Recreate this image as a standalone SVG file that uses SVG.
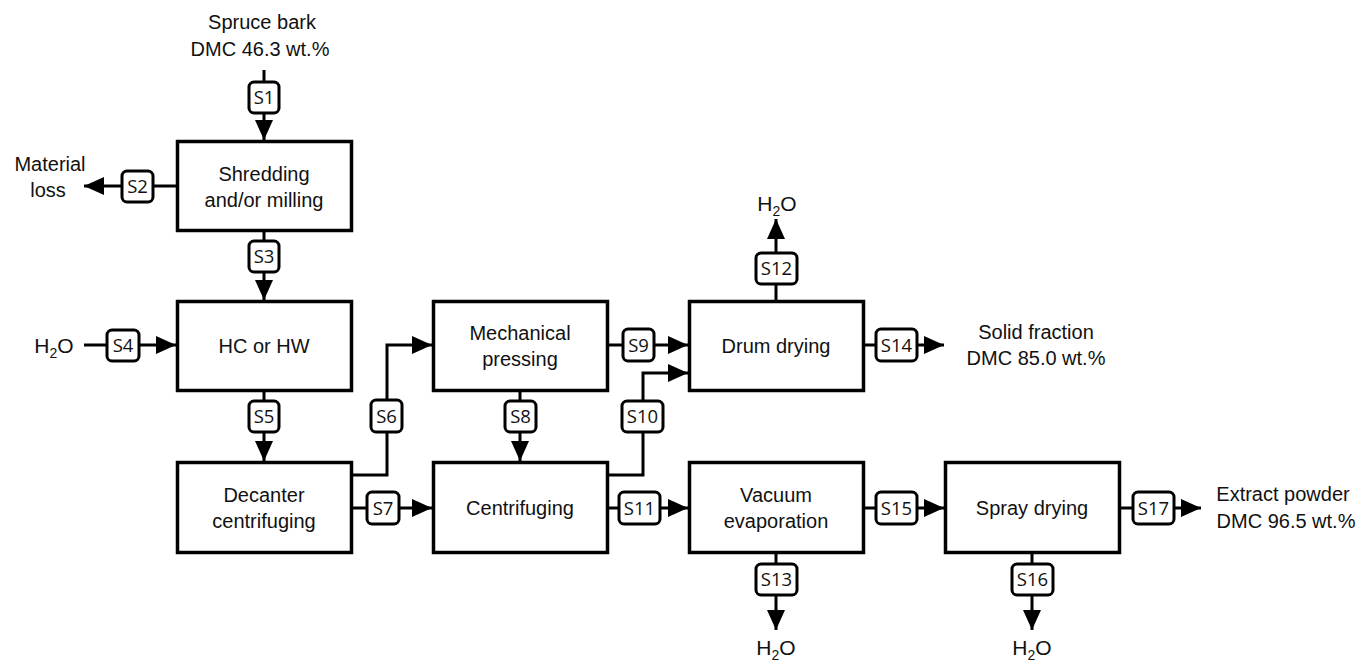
<svg xmlns="http://www.w3.org/2000/svg" width="1363" height="664" viewBox="0 0 1363 664">
<defs>
<marker id="ah" markerUnits="userSpaceOnUse" markerWidth="20" markerHeight="18" viewBox="0 0 20 18" refX="20" refY="9" orient="auto">
<path d="M0,0 L20,9 L0,18 Z" fill="#000"/>
</marker>
<style>
.box{fill:#fff;stroke:#000;stroke-width:3.5}
.tag{fill:#fff;stroke:#000;stroke-width:3}
.ln{fill:none;stroke:#000;stroke-width:3}
.t{font-family:"Liberation Sans",Arial,sans-serif;font-size:20px;fill:#111;text-anchor:middle}
.h{font-size:21px}
.s{font-family:"Open Sans","Noto Sans",sans-serif;font-size:18.5px;fill:#111;text-anchor:middle}
.sub{font-size:14px}
</style>
</defs>
<rect width="1363" height="664" fill="#fff"/>

<g id="connectors">
<line class="ln" x1="264" y1="70" x2="264" y2="140" marker-end="url(#ah)"/>
<line class="ln" x1="176" y1="186" x2="84" y2="186" marker-end="url(#ah)"/>
<line class="ln" x1="264" y1="232" x2="264" y2="300" marker-end="url(#ah)"/>
<line class="ln" x1="84" y1="345" x2="176" y2="345" marker-end="url(#ah)"/>
<line class="ln" x1="264" y1="392" x2="264" y2="461" marker-end="url(#ah)"/>
<polyline class="ln" points="353,475 387,475 387,345 432,345" marker-end="url(#ah)"/>
<line class="ln" x1="353" y1="508" x2="432" y2="508" marker-end="url(#ah)"/>
<line class="ln" x1="520" y1="392" x2="520" y2="461" marker-end="url(#ah)"/>
<line class="ln" x1="609" y1="345" x2="688" y2="345" marker-end="url(#ah)"/>
<polyline class="ln" points="609,475 643,475 643,373 688,373" marker-end="url(#ah)"/>
<line class="ln" x1="609" y1="508" x2="688" y2="508" marker-end="url(#ah)"/>
<line class="ln" x1="776" y1="300" x2="776" y2="219" marker-end="url(#ah)"/>
<line class="ln" x1="865" y1="345" x2="944" y2="345" marker-end="url(#ah)"/>
<line class="ln" x1="776" y1="554" x2="776" y2="630" marker-end="url(#ah)"/>
<line class="ln" x1="865" y1="508" x2="944" y2="508" marker-end="url(#ah)"/>
<line class="ln" x1="1032" y1="554" x2="1032" y2="630" marker-end="url(#ah)"/>
<line class="ln" x1="1121" y1="508" x2="1201" y2="508" marker-end="url(#ah)"/>

<g id="tags">
<rect class="tag" x="249" y="82" width="30" height="31" rx="5"/><text class="s" x="264" y="104">S1</text>
<rect class="tag" x="122" y="171" width="31" height="31" rx="5"/><text class="s" x="137.5" y="193">S2</text>
<rect class="tag" x="249" y="241" width="30" height="31" rx="5"/><text class="s" x="264" y="263">S3</text>
<rect class="tag" x="107" y="330" width="32" height="31" rx="5"/><text class="s" x="123" y="352">S4</text>
<rect class="tag" x="249" y="401" width="30" height="31" rx="5"/><text class="s" x="264" y="423">S5</text>
<rect class="tag" x="371" y="400" width="31" height="32" rx="5"/><text class="s" x="386.5" y="423">S6</text>
<rect class="tag" x="367" y="492" width="32" height="32" rx="5"/><text class="s" x="383" y="515">S7</text>
<rect class="tag" x="505" y="401" width="31" height="31" rx="5"/><text class="s" x="520.5" y="423">S8</text>
<rect class="tag" x="623" y="329" width="31" height="32" rx="5"/><text class="s" x="638.5" y="352">S9</text>
<rect class="tag" x="622" y="401" width="41" height="31" rx="5"/><text class="s" x="642.5" y="423">S10</text>
<rect class="tag" x="619" y="492" width="41" height="32" rx="5"/><text class="s" x="639.5" y="515">S11</text>
<rect class="tag" x="756" y="253" width="41" height="31" rx="5"/><text class="s" x="776.5" y="275">S12</text>
<rect class="tag" x="756" y="564" width="41" height="31" rx="5"/><text class="s" x="776.5" y="586">S13</text>
<rect class="tag" x="876" y="329" width="41" height="32" rx="5"/><text class="s" x="896.5" y="352">S14</text>
<rect class="tag" x="876" y="492" width="41" height="32" rx="5"/><text class="s" x="896.5" y="515">S15</text>
<rect class="tag" x="1012" y="564" width="41" height="31" rx="5"/><text class="s" x="1032.5" y="586">S16</text>
<rect class="tag" x="1133" y="492" width="41" height="32" rx="5"/><text class="s" x="1153.5" y="515">S17</text>
</g>
</g>

<g id="shredding"><rect class="box" x="177.5" y="141.5" width="174" height="89"/><text class="t" x="264" y="181">Shredding</text><text class="t" x="264" y="207">and/or milling</text></g>
<g id="hc"><rect class="box" x="177.5" y="301.5" width="174" height="89"/><text class="t" x="264" y="353">HC or HW</text></g>
<g id="decanter"><rect class="box" x="177.5" y="462.5" width="174" height="90"/><text class="t" x="264" y="502">Decanter</text><text class="t" x="264" y="528">centrifuging</text></g>
<g id="mech"><rect class="box" x="433.5" y="301.5" width="174" height="89"/><text class="t" x="520" y="340">Mechanical</text><text class="t" x="520" y="366">pressing</text></g>
<g id="centri"><rect class="box" x="433.5" y="462.5" width="174" height="90"/><text class="t" x="520" y="515">Centrifuging</text></g>
<g id="drum"><rect class="box" x="689.5" y="301.5" width="174" height="89"/><text class="t" x="776" y="353">Drum drying</text></g>
<g id="vacuum"><rect class="box" x="689.5" y="462.5" width="174" height="90"/><text class="t" x="776" y="502">Vacuum</text><text class="t" x="776" y="528">evaporation</text></g>
<g id="spray"><rect class="box" x="945.5" y="462.5" width="174" height="90"/><text class="t" x="1032" y="515">Spray drying</text></g>

<g id="labels">
<text class="t" x="262" y="29">Spruce bark</text>
<text class="t" x="260" y="56">DMC 46.3 wt.%</text>
<text class="t" x="50" y="171">Material</text>
<text class="t" x="48" y="197">loss</text>
<text class="t h" x="54" y="353">H<tspan class="sub" dy="5">2</tspan><tspan dy="-5">O</tspan></text>
<text class="t h" x="777" y="211">H<tspan class="sub" dy="5">2</tspan><tspan dy="-5">O</tspan></text>
<text class="t h" x="776" y="655">H<tspan class="sub" dy="5">2</tspan><tspan dy="-5">O</tspan></text>
<text class="t h" x="1032" y="655">H<tspan class="sub" dy="5">2</tspan><tspan dy="-5">O</tspan></text>
<text class="t" x="1036" y="339">Solid fraction</text>
<text class="t" x="1036" y="365">DMC 85.0 wt.%</text>
<text class="t" x="1283" y="501">Extract powder</text>
<text class="t" x="1286" y="528">DMC 96.5 wt.%</text>
</g>
</svg>
